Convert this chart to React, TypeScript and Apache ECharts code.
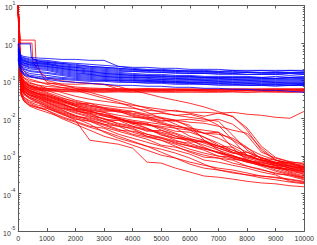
import { useEffect, useRef } from "react";
import * as echarts from "echarts";

// shared x grid (iterations)
const XTAIL = [1000, 1500, 2000, 2500, 3000, 3500, 4000, 4500, 5000, 5500, 6000, 6500, 7000, 7500, 8000, 8500, 9000, 9500, 10000];
const XR = [0, 50, 100, 200, 400, 700, ...XTAIL];
const XPLATEAU_BLUE = [0, 50, 420, 460, 700, ...XTAIL];
const XPLATEAU_RED1 = [0, 30, 80, 590, 620, 800, ...XTAIL];
const XPLATEAU_RED2 = [0, 30, 80, 480, 510, 800, ...XTAIL];

const X_TICKS = [0, 1000, 2000, 3000, 4000, 5000, 6000, 7000, 8000, 9000, 10000];
const Y_MIN = 1e-5;
const Y_MAX = 10;

// blue runs
const blue01 = [0.98,0.6,0.47,0.44,0.416,0.4, 0.39,0.368,0.368,0.347,0.347,0.24,0.213,0.2,0.2,0.188,0.188,0.188,0.177,0.188,0.177,0.188,0.177,0.188,0.177];
const blue02 = [0.9,0.55,0.44,0.41,0.38,0.36, 0.347,0.307,0.289,0.272,0.255,0.24,0.226,0.226,0.213,0.213,0.2,0.2,0.2,0.188,0.188,0.188,0.188,0.188,0.188];
const blue03 = [0.8,0.5,0.42,0.39,0.36,0.34, 0.326,0.289,0.272,0.24,0.226,0.213,0.2,0.188,0.188,0.177,0.177,0.177,0.166,0.177,0.166,0.166,0.166,0.166,0.166];
const blue04 = [0.75,0.48,0.4,0.37,0.34,0.32, 0.307,0.272,0.24,0.226,0.213,0.2,0.188,0.188,0.177,0.177,0.166,0.166,0.166,0.156,0.166,0.156,0.156,0.156,0.156];
const blue05 = [0.7,0.45,0.38,0.35,0.32,0.3, 0.289,0.255,0.226,0.213,0.2,0.188,0.177,0.177,0.166,0.166,0.156,0.156,0.156,0.156,0.147,0.147,0.147,0.156,0.147];
const blue06 = [0.65,0.44,0.37,0.33,0.3,0.285, 0.272,0.24,0.226,0.2,0.188,0.177,0.177,0.166,0.166,0.156,0.156,0.156,0.147,0.147,0.147,0.147,0.147,0.138,0.147];
const blue07 = [0.85,0.47,0.39,0.34,0.31,0.3, 0.289,0.24,0.213,0.188,0.177,0.166,0.156,0.147,0.147,0.138,0.138,0.13,0.13,0.13,0.13,0.122,0.13,0.122,0.13];
const blue08 = [0.6,0.42,0.36,0.32,0.29,0.28, 0.272,0.226,0.2,0.177,0.166,0.156,0.147,0.138,0.138,0.13,0.13,0.122,0.122,0.122,0.122,0.122,0.115,0.122,0.122];
const blue09 = [0.55,0.4,0.34,0.3,0.275,0.265, 0.255,0.213,0.188,0.166,0.156,0.147,0.138,0.13,0.13,0.122,0.122,0.122,0.115,0.115,0.115,0.115,0.115,0.115,0.115];
const blue10 = [0.7,0.38,0.32,0.29,0.26,0.25, 0.24,0.2,0.177,0.156,0.147,0.138,0.13,0.122,0.122,0.115,0.115,0.115,0.115,0.108,0.108,0.108,0.108,0.108,0.108];
const blue11 = [0.5,0.36,0.3,0.27,0.245,0.235, 0.226,0.188,0.166,0.147,0.138,0.13,0.122,0.122,0.115,0.115,0.108,0.108,0.108,0.108,0.102,0.102,0.102,0.102,0.102];
const blue12 = [0.45,0.34,0.29,0.26,0.23,0.22, 0.213,0.177,0.156,0.147,0.13,0.122,0.122,0.115,0.108,0.108,0.108,0.102,0.102,0.102,0.102,0.096,0.096,0.096,0.096];
const blue13 = [0.6,0.33,0.28,0.25,0.22,0.21, 0.2,0.166,0.147,0.138,0.13,0.122,0.115,0.108,0.108,0.102,0.102,0.102,0.096,0.096,0.096,0.096,0.09,0.09,0.09];
const blue14 = [0.42,0.31,0.26,0.23,0.205,0.195, 0.188,0.156,0.138,0.13,0.122,0.115,0.108,0.102,0.102,0.096,0.096,0.096,0.096,0.09,0.09,0.09,0.09,0.085,0.085];
const blue15 = [0.4,0.29,0.24,0.21,0.185,0.175, 0.166,0.147,0.13,0.122,0.115,0.108,0.102,0.102,0.096,0.096,0.09,0.09,0.09,0.09,0.085,0.085,0.085,0.085,0.085];
const blue16 = [0.5,0.28,0.23,0.2,0.175,0.165, 0.156,0.138,0.122,0.115,0.108,0.102,0.102,0.096,0.096,0.09,0.09,0.09,0.085,0.085,0.085,0.08,0.08,0.08,0.08];
const blue17 = [0.38,0.26,0.21,0.18,0.155,0.145, 0.138,0.122,0.115,0.108,0.102,0.102,0.096,0.096,0.09,0.09,0.085,0.085,0.085,0.08,0.08,0.08,0.08,0.075,0.08];
const blue18 = [0.36,0.25,0.19,0.16,0.14,0.13, 0.122,0.115,0.108,0.102,0.102,0.096,0.09,0.09,0.09,0.085,0.085,0.08,0.08,0.08,0.075,0.075,0.075,0.075,0.075];
const blue19 = [0.35,0.24,0.18,0.15,0.13,0.12, 0.115,0.108,0.102,0.096,0.096,0.09,0.09,0.085,0.085,0.08,0.08,0.08,0.075,0.075,0.075,0.075,0.071,0.075,0.075];
const blue20 = [0.34,0.23,0.17,0.14,0.125,0.115, 0.108,0.096,0.09,0.085,0.08,0.075,0.075,0.071,0.071,0.0665,0.0665,0.0626,0.0626,0.0589,0.0589,0.0554,0.0554,0.0521,0.049];
const blue21 = [0.95,0.95,0.95,0.4,0.33, 0.307,0.289,0.255,0.24,0.226,0.213,0.2,0.188,0.188,0.188,0.177,0.177,0.177,0.166,0.166,0.166,0.166,0.166,0.166];
const blue22 = [0.95,0.42,0.33,0.29,0.265,0.25, 0.24,0.213,0.188,0.177,0.156,0.147,0.138,0.138,0.13,0.13,0.13,0.122,0.122,0.122,0.122,0.115,0.115,0.122,0.115];

// red runs
const redA1 = [10,0.87,0.166,0.115,0.09,0.075, 0.0626,0.049,0.0384,0.032,0.0283,0.025,0.0221,0.0196,0.0173,0.0153,0.0144,0.0144,0.0136,0.0144,0.0128,0.012,0.0106,0.01,0.0153];
const redA2 = [10,0.64,0.13,0.09,0.072,0.062, 0.0554,0.0408,0.0301,0.025,0.0221,0.0196,0.0184,0.0163,0.0153,0.0163,0.0136,0.0113,0.0136,0.0113,0.0048,0.00141,0.00077,0.00064,0.00056];
const redA3 = [10,0.72,0.14,0.1,0.075,0.06, 0.049,0.0361,0.0266,0.0221,0.0196,0.0173,0.0153,0.0128,0.0136,0.012,0.0128,0.01,0.00651,0.0026,0.00104,0.00077,0.00056,0.0005,0.00042];
const redA4 = [8.3,0.47,0.1,0.075,0.06,0.05, 0.0408,0.0301,0.0235,0.0196,0.0163,0.0163,0.0136,0.012,0.0106,0.00884,0.0094,0.00832,0.0094,0.00692,0.00353,0.00125,0.00087,0.00068,0.00064];
const redA5 = [7,0.5,0.1,0.07,0.055,0.046, 0.0384,0.0283,0.0221,0.0173,0.0144,0.012,0.0106,0.01,0.00884,0.00832,0.00651,0.0026,0.00141,0.00087,0.00068,0.00056,0.00047,0.00042,0.00037];
const redA6 = [9,0.6,0.12,0.085,0.068,0.057, 0.0461,0.032,0.025,0.0208,0.0184,0.0163,0.0128,0.0106,0.01,0.00884,0.00782,0.00736,0.00613,0.0048,0.00399,0.0016,0.00077,0.00053,0.00047];
const redA7 = [10,0.39,0.085,0.062,0.05,0.043, 0.034,0.025,0.0184,0.0153,0.0128,0.0106,0.00884,0.00782,0.00692,0.00613,0.00542,0.0048,0.00425,0.0016,0.00077,0.0006,0.0005,0.00039,0.00033];
const redB1 = [10,0.35,0.08,0.058,0.046,0.038, 0.0301,0.0235,0.0184,0.0163,0.0113,0.0094,0.00782,0.00736,0.0048,0.00376,0.0026,0.0023,0.0018,0.0017,0.00104,0.00077,0.00064,0.00053,0.00047];
const redB2 = [6.5,0.3,0.07,0.052,0.042,0.036, 0.0266,0.0196,0.0144,0.0113,0.01,0.00692,0.00576,0.0048,0.00399,0.00294,0.0026,0.00192,0.00141,0.00104,0.00072,0.00068,0.00053,0.00042,0.00035];
const redB3 = [8,0.4,0.09,0.065,0.052,0.043, 0.034,0.0266,0.0208,0.0144,0.0128,0.01,0.00782,0.00542,0.00376,0.0026,0.00192,0.0016,0.00118,0.00098,0.00077,0.00064,0.00056,0.00037,0.00029];
const redB4 = [10,0.25,0.06,0.045,0.036,0.03, 0.0235,0.0173,0.0113,0.01,0.00782,0.00613,0.00542,0.00376,0.00294,0.0023,0.0018,0.00141,0.00098,0.00092,0.00077,0.0006,0.00047,0.00044,0.00031];
const redB5 = [10,0.28,0.065,0.045,0.034,0.027, 0.0208,0.0144,0.0106,0.00832,0.00651,0.0048,0.00451,0.00376,0.00313,0.00245,0.00217,0.0016,0.00125,0.00098,0.00072,0.0006,0.00042,0.00033,0.00026];
const redB6 = [9,0.33,0.075,0.055,0.043,0.036, 0.0301,0.0221,0.0163,0.0128,0.0094,0.00884,0.00736,0.00651,0.00576,0.00451,0.00425,0.00313,0.00217,0.00141,0.00098,0.00072,0.0006,0.00053,0.00044];
const redB7 = [7.4,0.2,0.05,0.036,0.029,0.025, 0.0184,0.0128,0.0094,0.00832,0.00576,0.00451,0.00353,0.00277,0.00192,0.0017,0.00133,0.00104,0.00087,0.00077,0.00053,0.00042,0.00035,0.00029,0.00023];
const redB8 = [10,0.45,0.095,0.07,0.056,0.045, 0.0361,0.0283,0.0221,0.0184,0.0153,0.0153,0.0113,0.0094,0.00736,0.00542,0.00332,0.0026,0.0018,0.00125,0.00087,0.00068,0.00056,0.00047,0.00039];
const redB9 = [8,0.3,0.07,0.05,0.04,0.033, 0.025,0.0184,0.0136,0.0106,0.00832,0.00651,0.0051,0.00332,0.0026,0.0018,0.00125,0.00092,0.00087,0.00064,0.00053,0.00044,0.00033,0.00031,0.00026];
const redB10 = [7,0.18,0.045,0.032,0.025,0.02, 0.0163,0.0113,0.00832,0.00613,0.00542,0.00376,0.00294,0.0023,0.0018,0.00141,0.00111,0.00077,0.00068,0.00056,0.00047,0.00037,0.00031,0.00021,0.00019];
const redB11 = [9,0.38,0.085,0.06,0.048,0.04, 0.032,0.025,0.0173,0.0153,0.012,0.01,0.00736,0.00692,0.00542,0.00399,0.00294,0.00217,0.0016,0.00118,0.00104,0.00077,0.00068,0.0006,0.00053];
const redB12 = [10,0.26,0.062,0.046,0.036,0.029, 0.0221,0.0163,0.012,0.00884,0.00692,0.00613,0.00425,0.00332,0.00294,0.00217,0.0018,0.0015,0.00125,0.00098,0.00081,0.00056,0.00047,0.00035,0.00027];
const redB13 = [10,0.32,0.072,0.053,0.042,0.035, 0.0283,0.0208,0.0153,0.0136,0.0094,0.00736,0.00613,0.0051,0.00425,0.00332,0.00277,0.0017,0.00118,0.00087,0.00068,0.00056,0.0005,0.00044,0.00039];
const redC1 = [8,0.2,0.04,0.028,0.022,0.019, 0.0184,0.0136,0.00884,0.0026,0.0023,0.00204,0.0016,0.00068,0.00064,0.00047,0.00037,0.00029,0.00027,0.00024,0.00021,0.00019,0.00018,0.00016,0.00015];
const redC2 = [6,0.22,0.045,0.03,0.023,0.019, 0.0163,0.01,0.00692,0.0048,0.00332,0.0026,0.00192,0.00141,0.00104,0.00087,0.0006,0.00047,0.00042,0.00037,0.00031,0.00026,0.00023,0.0002,0.00018];
const redC3 = [9,0.21,0.05,0.035,0.027,0.022, 0.0196,0.0136,0.01,0.00692,0.00425,0.00294,0.0023,0.0018,0.00125,0.00087,0.00068,0.00056,0.00047,0.00042,0.00035,0.00029,0.00026,0.00023,0.0002];
const redC4 = [10,0.19,0.042,0.029,0.021,0.017, 0.0144,0.0106,0.00782,0.00576,0.00451,0.00332,0.00245,0.0018,0.0015,0.00118,0.00087,0.0006,0.00042,0.00035,0.00031,0.00029,0.00027,0.00024,0.00021];
const redD1 = [10,1.2,0.3,0.18,0.13,0.115, 0.102,0.08,0.0626,0.049,0.0384,0.0301,0.0235,0.0184,0.0144,0.012,0.0106,0.0094,0.00832,0.00353,0.00141,0.00087,0.00068,0.00056,0.0005];
const redD2 = [10,0.9,0.22,0.14,0.11,0.095, 0.08,0.0665,0.0554,0.0434,0.034,0.0266,0.0196,0.0144,0.01,0.00692,0.0048,0.00313,0.00192,0.00125,0.00092,0.00077,0.00064,0.00053,0.00044];
const redE1 = [10,0.42,0.095,0.068,0.054,0.046, 0.0408,0.032,0.0235,0.025,0.0184,0.0144,0.0153,0.0113,0.00832,0.00884,0.00576,0.00399,0.00425,0.0026,0.0016,0.00104,0.00077,0.00064,0.00047];
const redE2 = [9,0.3,0.068,0.05,0.04,0.032, 0.0266,0.0184,0.0163,0.012,0.00832,0.00884,0.00613,0.00451,0.0048,0.00332,0.0023,0.00245,0.0016,0.00118,0.00125,0.00087,0.00064,0.00068,0.0005];
const redE3 = [10,0.4,0.09,0.066,0.052,0.045, 0.0384,0.0301,0.0208,0.0163,0.0144,0.01,0.00692,0.00542,0.00353,0.00294,0.00277,0.00245,0.0018,0.00141,0.00104,0.00092,0.00064,0.00047,0.00037];
const redE4 = [8,0.36,0.082,0.06,0.047,0.039, 0.032,0.0235,0.0173,0.0136,0.0113,0.0094,0.00832,0.00692,0.00613,0.00542,0.0048,0.00399,0.00376,0.00294,0.0017,0.00081,0.0006,0.00047,0.00042];
const redE5 = [10,0.5,0.11,0.078,0.062,0.052, 0.0434,0.034,0.0283,0.0221,0.0173,0.0153,0.012,0.01,0.00782,0.00613,0.0051,0.00399,0.00294,0.00192,0.00125,0.00087,0.00077,0.0006,0.0005];
const redE6 = [10,0.24,0.058,0.042,0.033,0.026, 0.0208,0.0153,0.0113,0.0094,0.00692,0.0051,0.00376,0.00313,0.0026,0.00204,0.0015,0.00118,0.00098,0.00081,0.00072,0.00053,0.00039,0.00031,0.00024];
const redFlat1 = [10,0.55,0.13,0.095,0.078,0.068, 0.062,0.06,0.059,0.058,0.058,0.057,0.058,0.057,0.056,0.057,0.056,0.057,0.056,0.058,0.056,0.057,0.056,0.057,0.056];
const redFlat2 = [10,0.5,0.12,0.088,0.072,0.063, 0.058,0.056,0.055,0.055,0.054,0.055,0.054,0.055,0.054,0.054,0.055,0.054,0.053,0.054,0.055,0.054,0.053,0.054,0.054];
const redFlat3 = [9,0.45,0.11,0.08,0.066,0.059, 0.055,0.053,0.052,0.052,0.051,0.052,0.051,0.051,0.052,0.051,0.05,0.051,0.052,0.051,0.05,0.051,0.052,0.05,0.051];
const redFlat4 = [10,0.7,0.16,0.12,0.1,0.09, 0.085,0.082,0.08,0.083,0.079,0.06,0.059,0.06,0.059,0.058,0.06,0.059,0.058,0.059,0.06,0.058,0.059,0.06,0.059];
const redFlat5 = [8,0.52,0.125,0.09,0.074,0.065, 0.06,0.058,0.057,0.057,0.056,0.056,0.055,0.056,0.055,0.056,0.055,0.055,0.056,0.055,0.055,0.056,0.055,0.056,0.055];
const redFlat6 = [10,0.42,0.1,0.075,0.062,0.056, 0.053,0.052,0.05,0.05,0.049,0.05,0.049,0.05,0.049,0.049,0.05,0.049,0.049,0.05,0.049,0.05,0.049,0.049,0.05];
const redFlat7 = [10,0.6,0.14,0.1,0.085,0.076, 0.07,0.066,0.063,0.061,0.06,0.06,0.059,0.06,0.059,0.06,0.059,0.058,0.059,0.06,0.059,0.06,0.061,0.059,0.06];
const redP1 = [10,3,1.2,1.2,0.35,0.15, 0.09,0.075,0.068,0.064,0.062,0.061,0.06,0.061,0.06,0.06,0.059,0.06,0.059,0.06,0.059,0.06,0.059,0.06,0.06];
const redP2 = [10,2.5,1.0,1.0,0.3,0.16, 0.12,0.1,0.09,0.085,0.08,0.07,0.055,0.045,0.036,0.03,0.025,0.02,0.015,0.011,0.0055,0.0018,0.0009,0.0007,0.0006];

const BLUE = "#0000ff";
const RED = "#ff0000";
const AXIS = "#5a5a5a";
const TEXT = "#333333";
const FONT = "Liberation Sans, Arial, sans-serif";

const blueRuns: [number[], number[]][] = [
  [XR, blue01], [XR, blue02], [XR, blue03], [XR, blue04], [XR, blue05], [XR, blue06],
  [XR, blue07], [XR, blue08], [XR, blue09], [XR, blue10], [XR, blue11], [XR, blue12],
  [XR, blue13], [XR, blue14], [XR, blue15], [XR, blue16], [XR, blue17], [XR, blue18],
  [XR, blue19], [XR, blue20], [XPLATEAU_BLUE, blue21], [XR, blue22],
];
const redRuns: [number[], number[]][] = [
  [XR, redA1], [XR, redA2], [XR, redA3], [XR, redA4], [XR, redA5], [XR, redA6], [XR, redA7],
  [XR, redB1], [XR, redB2], [XR, redB3], [XR, redB4], [XR, redB5], [XR, redB6], [XR, redB7],
  [XR, redB8], [XR, redB9], [XR, redB10], [XR, redB11], [XR, redB12], [XR, redB13],
  [XR, redC1], [XR, redC2], [XR, redC3], [XR, redC4], [XR, redD1], [XR, redD2],
  [XR, redE1], [XR, redE2], [XR, redE3], [XR, redE4], [XR, redE5], [XR, redE6],
  [XR, redFlat1], [XR, redFlat2], [XR, redFlat3], [XR, redFlat4], [XR, redFlat5], [XR, redFlat6], [XR, redFlat7],
  [XPLATEAU_RED1, redP1], [XPLATEAU_RED2, redP2],
];

export default function App() {
  const ref = useRef<HTMLDivElement>(null);
  useEffect(() => {
    const chart = echarts.init(ref.current!, null, { renderer: "svg" });
    const mkSeries = (xs: number[], ys: number[], color: string) => ({
      type: "line",
      data: xs.map((x, i) => [x, ys[i]]),
      showSymbol: false,
      symbol: "none",
      silent: true,
      lineStyle: { width: 0.8, color },
      itemStyle: { color },
      emphasis: { disabled: true },
    });
    const series = [
      ...redRuns.map(([xs, ys]) => mkSeries(xs, ys, RED)),
      ...blueRuns.map(([xs, ys]) => mkSeries(xs, ys, BLUE)),
    ];
    const lineStyle = { color: AXIS, width: 1 };
    chart.setOption({
      animation: false,
      grid: { left: 17, right: 11, top: 5, bottom: 14 },
      xAxis: [
        {
          type: "value", position: "bottom", min: X_TICKS[0], max: X_TICKS[X_TICKS.length - 1], interval: 1000,
          axisLine: { show: true, onZero: false, lineStyle },
          axisTick: { show: true, inside: true, length: 3, lineStyle },
          axisLabel: { fontSize: 7, color: TEXT, fontFamily: FONT, margin: 4, formatter: (v: number) => String(v) },
          splitLine: { show: false },
        },
        {
          type: "value", position: "top", min: X_TICKS[0], max: X_TICKS[X_TICKS.length - 1], interval: 1000,
          axisLine: { show: true, onZero: false, lineStyle },
          axisTick: { show: true, inside: true, length: 3, lineStyle },
          axisLabel: { show: false },
          splitLine: { show: false },
        },
      ],
      yAxis: [
        {
          type: "log", logBase: 10, position: "left", min: Y_MIN, max: Y_MAX,
          axisLine: { show: true, onZero: false, lineStyle },
          axisTick: { show: true, inside: true, length: 3, lineStyle },
          minorTick: { show: true, splitNumber: 9, length: 1.5, lineStyle },
          axisLabel: {
            margin: 3,
            formatter: (v: number) => `{b|10}{s|${Math.round(Math.log10(v))}}`,
            rich: {
              b: { fontSize: 7, color: TEXT, fontFamily: FONT, lineHeight: 11, verticalAlign: "bottom" },
              s: { fontSize: 5, color: TEXT, fontFamily: FONT, lineHeight: 5, verticalAlign: "top" },
            },
          },
          splitLine: { show: false },
        },
        {
          type: "log", logBase: 10, position: "right", min: Y_MIN, max: Y_MAX,
          axisLine: { show: true, onZero: false, lineStyle },
          axisTick: { show: true, inside: true, length: 3, lineStyle },
          minorTick: { show: true, splitNumber: 9, length: 1.5, lineStyle },
          axisLabel: { show: false },
          splitLine: { show: false },
        },
      ],
      series,
    });
    return () => chart.dispose();
  }, []);
  return <div ref={ref} style={{ position: "absolute", left: 0, top: 0, width: 317, height: 245, background: "#fff" }} />;
}
